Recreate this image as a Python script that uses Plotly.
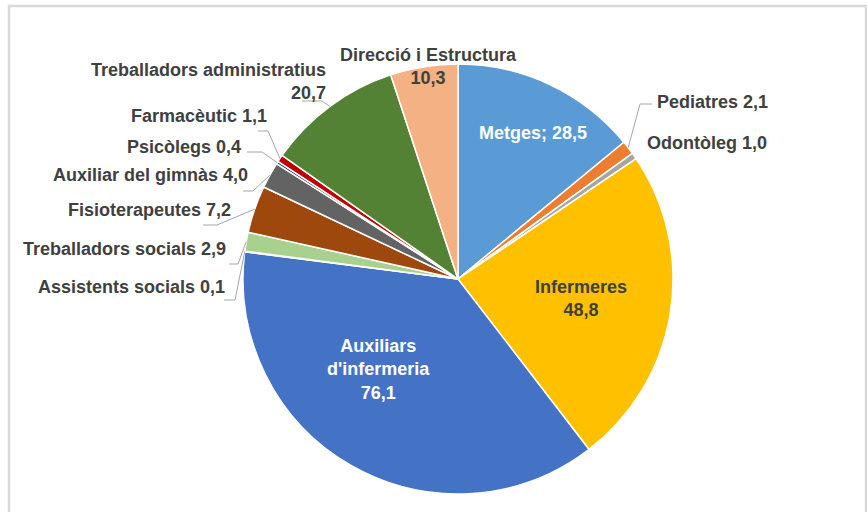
import math
import plotly.graph_objects as go

# ---- data ----
categories = ["Metges", "Pediatres", "Odontòleg", "Infermeres", "Auxiliars d'infermeria",
              "Assistents socials", "Treballadors socials", "Fisioterapeutes",
              "Auxiliar del gimnàs", "Psicòlegs", "Farmacèutic",
              "Treballadors administratius", "Direcció i Estructura"]
values = [28.5, 2.1, 1.0, 48.8, 76.1, 0.1, 2.9, 7.2, 4.0, 0.4, 1.1, 20.7, 10.3]

# ---- style ----
colors = ["#5B9BD5", "#ED7D31", "#A5A5A5", "#FFC000", "#4472C4", "#43682B", "#A9D18E",
          "#9E480E", "#636363", "#264478", "#C00000", "#548235", "#F4B183"]

W, H = 867, 512
CX, CY, R = 458, 279, 215  # pie centre / radius in px

def fx(x):
    return x / W

def fy(y):
    return 1 - y / H

def fmt(v):
    return f"{v:.1f}".replace(".", ",")

DARK = "#404040"
FONT_SIZE = 18
label_names = {
    "Auxiliars d'infermeria": "Auxiliars<br>d'infermeria",
}
# (template, x, y, xanchor, align, colour, leader knee points) in px
placements = {
    "Metges": ("{n}; {v}", 533, 133, "center", "center", "white", None),
    "Pediatres": ("{n} {v}", 655, 102, "left", "left", DARK, [(652, 104), (640, 104)]),
    "Odontòleg": ("{n} {v}", 645, 143, "left", "left", DARK, None),
    "Infermeres": ("{n}<br>{v}", 581, 298, "center", "center", DARK, None),
    "Auxiliars d'infermeria": ("{n}<br>{v}", 378, 369, "center", "center", "white", None),
    "Assistents socials": ("{n} {v}", 227, 287, "right", "right", DARK, [(224, 300), (235, 300)]),
    "Treballadors socials": ("{n} {v}", 228, 249, "right", "right", DARK, [(229, 264), (238, 264)]),
    "Fisioterapeutes": ("{n} {v}", 233, 210, "right", "right", DARK, [(203, 225), (217, 225)]),
    "Auxiliar del gimnàs": ("{n} {v}", 250, 175, "right", "right", DARK, [(243, 191), (253, 191)]),
    "Psicòlegs": ("{n} {v}", 243, 147, "right", "right", DARK, [(247, 152), (262, 152)]),
    "Farmacèutic": ("{n} {v}", 269, 116, "right", "right", DARK, [(258, 131), (268, 131)]),
    "Treballadors administratius": ("{n}<br>{v}", 328, 81, "right", "right", DARK, [(302, 101), (322, 101)]),
    "Direcció i Estructura": ("{n}<br>{v}", 428, 66, "center", "center", DARK, None),
}

fig = go.Figure(go.Pie(
    labels=categories,
    values=values,
    sort=False,
    direction="clockwise",
    rotation=0,
    textinfo="none",
    hoverinfo="label+value",
    marker=dict(colors=colors, line=dict(color="white", width=1.5)),
    domain=dict(x=[fx(CX - R), fx(CX + R)], y=[fy(CY + R), fy(CY - R)]),
    showlegend=False,
))

total = sum(values)
annotations = []
shapes = []
cum = 0.0
for name, v in zip(categories, values):
    mid = (cum + v / 2) / total * 2 * math.pi
    cum += v
    tmpl, x, y, xa, al, col, knee = placements[name]
    text = tmpl.format(n=label_names.get(name, name), v=fmt(v))
    annotations.append(dict(
        text=text, x=fx(x), y=fy(y), xref="paper", yref="paper",
        xanchor=xa, yanchor="middle", align=al, showarrow=False,
        font=dict(family="Liberation Sans, Arial, sans-serif", size=FONT_SIZE, color=col, weight="bold"),
    ))
    if knee:
        ex = CX + R * math.sin(mid)
        ey = CY - R * math.cos(mid)
        pts = knee + [(ex, ey)]
        path = "M " + " L ".join(f"{fx(px_)},{fy(py_)}" for px_, py_ in pts)
        shapes.append(dict(type="path", path=path, xref="paper", yref="paper",
                           line=dict(color="#A6A6A6", width=1)))

# chart frame
shapes.append(dict(type="rect", xref="paper", yref="paper",
                   x0=fx(9), x1=fx(866), y0=fy(530), y1=fy(6),
                   line=dict(color="#D9D9D9", width=2.5), fillcolor="rgba(0,0,0,0)", layer="below"))

fig.update_layout(
    width=W, height=H,
    margin=dict(l=0, r=0, t=0, b=0),
    paper_bgcolor="white",
    plot_bgcolor="white",
    annotations=annotations,
    shapes=shapes,
)

fig.write_html(
    "out.html",
    config={"displayModeBar": False},
    post_script="document.body.style.margin='0';document.body.style.overflow='hidden';",
)
